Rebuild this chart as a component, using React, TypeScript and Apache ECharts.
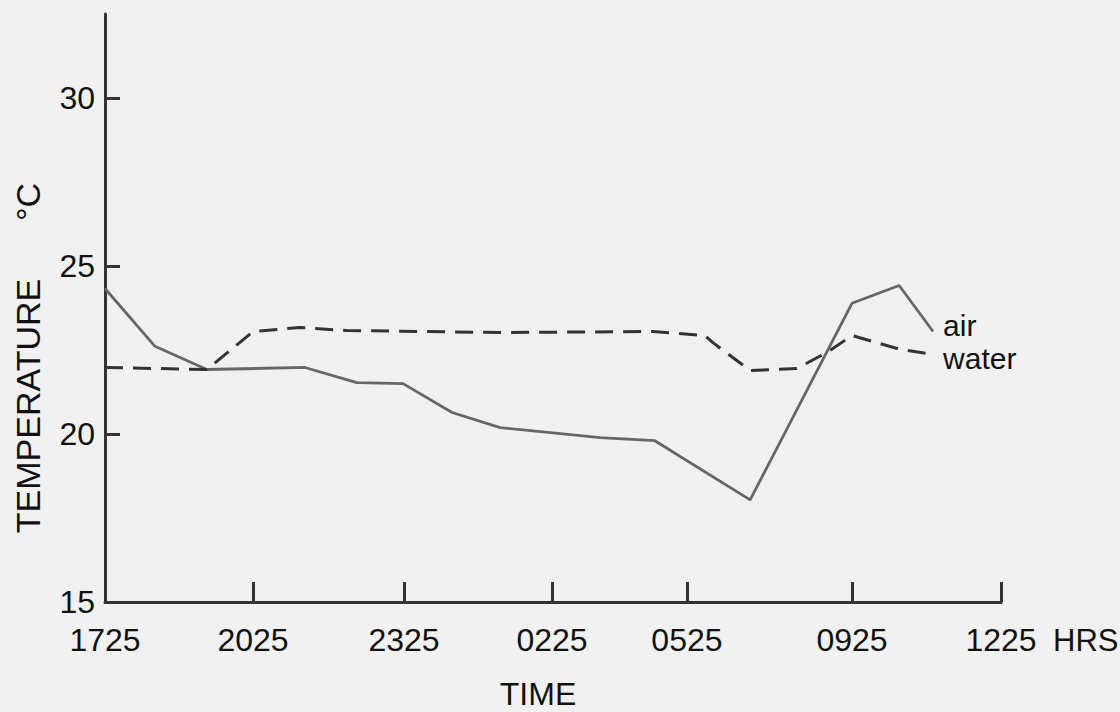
import React, { useEffect, useRef } from "react";
import * as echarts from "echarts";

// Time axis: hours elapsed after 1725, with the printed clock labels
const timeLabels = ["1725", "2025", "2325", "0225", "0525", "0925", "1225"];
const tickHours = [0, 3.14, 6.34, 9.48, 12.34, 15.84, 19];

// Temperature axis (°C)
const tempTicks = [15, 20, 25, 30];

// Air temperature readings
const airHours = [0, 1.06, 2.16, 4.24, 5.34, 6.32, 7.36, 8.38, 10.5, 11.66, 13.68, 15.84, 16.84, 17.56];
const airTemp = [24.33, 22.61, 21.92, 21.98, 21.53, 21.5, 20.64, 20.19, 19.89, 19.8, 18.04, 23.89, 24.42, 23.05];

// Water temperature readings
const waterHours = [0, 2.16, 3.14, 4.13, 5.13, 8.38, 11.62, 12.72, 12.89, 13.68, 14.67, 15.31, 15.84, 16.86, 17.56];
const waterTemp = [21.98, 21.92, 23.05, 23.17, 23.08, 23.02, 23.05, 22.93, 22.72, 21.89, 21.95, 22.43, 22.93, 22.52, 22.37];

const FONT = "'Liberation Sans', Arial, sans-serif";
const INK = "#111";

export default function App() {
  const ref = useRef<HTMLDivElement>(null);

  useEffect(() => {
    if (!ref.current) return;
    const chart = echarts.init(ref.current, undefined, { renderer: "svg" });
    const pair = (xs: number[], ys: number[]) => xs.map((x, i) => [x, ys[i]]);

    chart.setOption({
      animation: false,
      backgroundColor: "#f1f1f1",
      grid: { left: 105, right: 119, top: 14, bottom: 110, containLabel: false, outerBoundsMode: "none" },
      xAxis: {
        type: "value",
        min: 0,
        max: 19,
        splitLine: { show: false },
        axisLine: { show: true, onZero: false, lineStyle: { color: "#333", width: 3 } },
        axisTick: {
          show: true,
          inside: true,
          length: 20,
          customValues: tickHours.slice(1),
          lineStyle: { color: "#333", width: 3 },
        },
        axisLabel: {
          show: true,
          customValues: tickHours,
          margin: 22,
          fontSize: 32,
          fontFamily: FONT,
          color: INK,
          formatter: (v: number) => {
            const i = tickHours.findIndex((t) => Math.abs(t - v) < 1e-6);
            return i >= 0 ? timeLabels[i] : "";
          },
        },
      },
      yAxis: {
        type: "value",
        min: 15,
        max: 32.5,
        splitLine: { show: false },
        axisLine: { show: true, onZero: false, lineStyle: { color: "#333", width: 3 } },
        axisTick: {
          show: true,
          inside: true,
          length: 15,
          customValues: tempTicks.slice(1),
          lineStyle: { color: "#333", width: 3 },
        },
        axisLabel: {
          show: true,
          customValues: tempTicks,
          margin: 10,
          fontSize: 32,
          fontFamily: FONT,
          color: INK,
          padding: [10, 0, 0, 0],
        },
      },
      series: [
        {
          name: "air",
          type: "line",
          data: pair(airHours, airTemp),
          symbol: "none",
          lineStyle: { color: "#666", width: 2.8 },
          endLabel: {
            show: true,
            formatter: "air",
            distance: 10,
            offset: [0, -6],
            fontSize: 30,
            fontFamily: FONT,
            color: INK,
          },
        },
        {
          name: "water",
          type: "line",
          data: pair(waterHours, waterTemp),
          symbol: "none",
          lineStyle: { color: "#333", width: 3, type: [18, 10] },
          endLabel: {
            show: true,
            formatter: "water",
            distance: 10,
            offset: [0, 4],
            fontSize: 30,
            fontFamily: FONT,
            color: INK,
          },
        },
      ],
      graphic: [
        {
          type: "text",
          x: 28,
          y: 406,
          rotation: Math.PI / 2,
          style: {
            text: "TEMPERATURE",
            fontSize: 34,
            fontFamily: FONT,
            fill: INK,
            align: "center",
            verticalAlign: "middle",
          },
        },
        {
          type: "text",
          x: 28,
          y: 202,
          rotation: Math.PI / 2,
          style: {
            text: "°C",
            fontSize: 34,
            fontFamily: FONT,
            fill: INK,
            align: "center",
            verticalAlign: "middle",
          },
        },
        {
          type: "text",
          x: 538,
          y: 694,
          style: {
            text: "TIME",
            fontSize: 32,
            fontFamily: FONT,
            fill: INK,
            align: "center",
            verticalAlign: "middle",
          },
        },
        {
          type: "text",
          x: 1053,
          y: 640,
          style: {
            text: "HRS",
            fontSize: 31,
            fontFamily: FONT,
            fill: INK,
            align: "left",
            verticalAlign: "middle",
          },
        },
      ],
    });

    return () => chart.dispose();
  }, []);

  return (
    <div
      ref={ref}
      style={{ position: "fixed", left: 0, top: 0, width: 1120, height: 712 }}
    />
  );
}
